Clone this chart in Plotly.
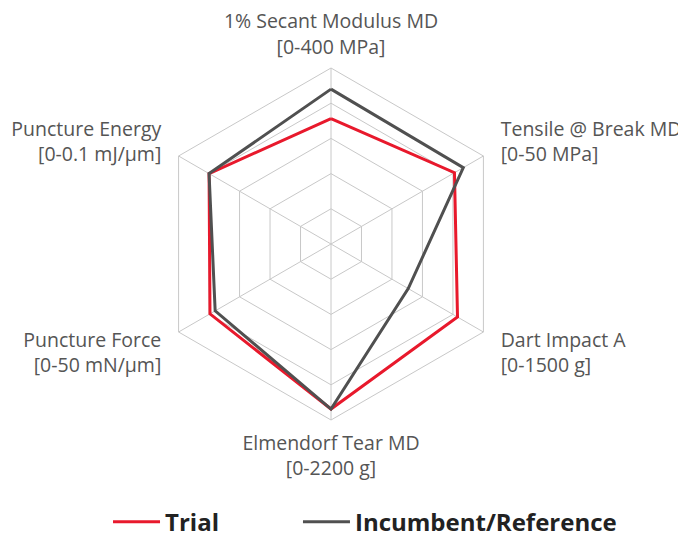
import plotly.graph_objects as go

categories = [
    "1% Secant Modulus MD<br>[0-400 MPa]",
    "Tensile @ Break MD<br>[0-50 MPa]",
    "Dart Impact A<br>[0-1500 g]",
    "Elmendorf Tear MD<br>[0-2200 g]",
    "Puncture Force<br>[0-50 mN/µm]",
    "Puncture Energy<br>[0-0.1 mJ/µm]",
]
axis_max = [400, 50, 1500, 2200, 50, 0.1]
trial = [285, 40.5, 1245, 2063, 39.7, 0.080]
incumbent = [352, 43.4, 760, 2063, 38.0, 0.080]

def norm(vals):
    r = [v / m for v, m in zip(vals, axis_max)]
    return r + [r[0]]

# small padding between the hexagon and the side labels
NB = "\u00a0\u2009"
def pad(label, side):
    lines = label.split("<br>")
    if side == "right":
        return "<br>".join(NB + l for l in lines)
    if side == "left":
        return "<br>".join(l + NB for l in lines)
    return label

sides = ["top", "right", "right", "bottom", "left", "left"]
labels = [pad(c, s) for c, s in zip(categories, sides)]
theta = labels + [labels[0]]

fig = go.Figure()
fig.add_trace(go.Scatterpolar(r=norm(trial), theta=theta, mode="lines", name="Trial",
                              line=dict(color="#e8192c", width=3), legend="legend"))
fig.add_trace(go.Scatterpolar(r=norm(incumbent), theta=theta, mode="lines", name="Incumbent/Reference",
                              line=dict(color="#505050", width=3), legend="legend2"))

legend_font = dict(family="Open Sans", size=24, color="#222222", weight="bold")

fig.update_layout(
    width=686, height=533,
    margin=dict(l=0, r=0, t=0, b=0, autoexpand=False),
    paper_bgcolor="white",
    font=dict(family="Open Sans", color="#555555", size=19.5),
    polar=dict(
        domain=dict(x=[147/686, 499/686], y=[121/533, 473/533]),
        bgcolor="white",
        gridshape="linear",
        radialaxis=dict(range=[0, 1], tickvals=[0.2, 0.4, 0.6, 0.8, 1.0], showticklabels=False,
                        ticks="", showline=False, gridcolor="#c8c8c8", gridwidth=1),
        angularaxis=dict(rotation=90, direction="clockwise", linecolor="#c8c8c8", linewidth=1,
                         gridcolor="#c8c8c8", gridwidth=1, ticks="outside", ticklen=6,
                         tickcolor="rgba(0,0,0,0)",
                         tickfont=dict(family="Open Sans", size=19.5, color="#555555")),
    ),
    legend=dict(orientation="h", x=0.1458, xanchor="left", y=-0.007, yanchor="bottom",
                font=legend_font, itemwidth=47, bgcolor="rgba(0,0,0,0)"),
    legend2=dict(orientation="h", x=0.4227, xanchor="left", y=-0.007, yanchor="bottom",
                 font=legend_font, itemwidth=47, bgcolor="rgba(0,0,0,0)"),
    showlegend=True,
)

fig.write_html("out.html")
